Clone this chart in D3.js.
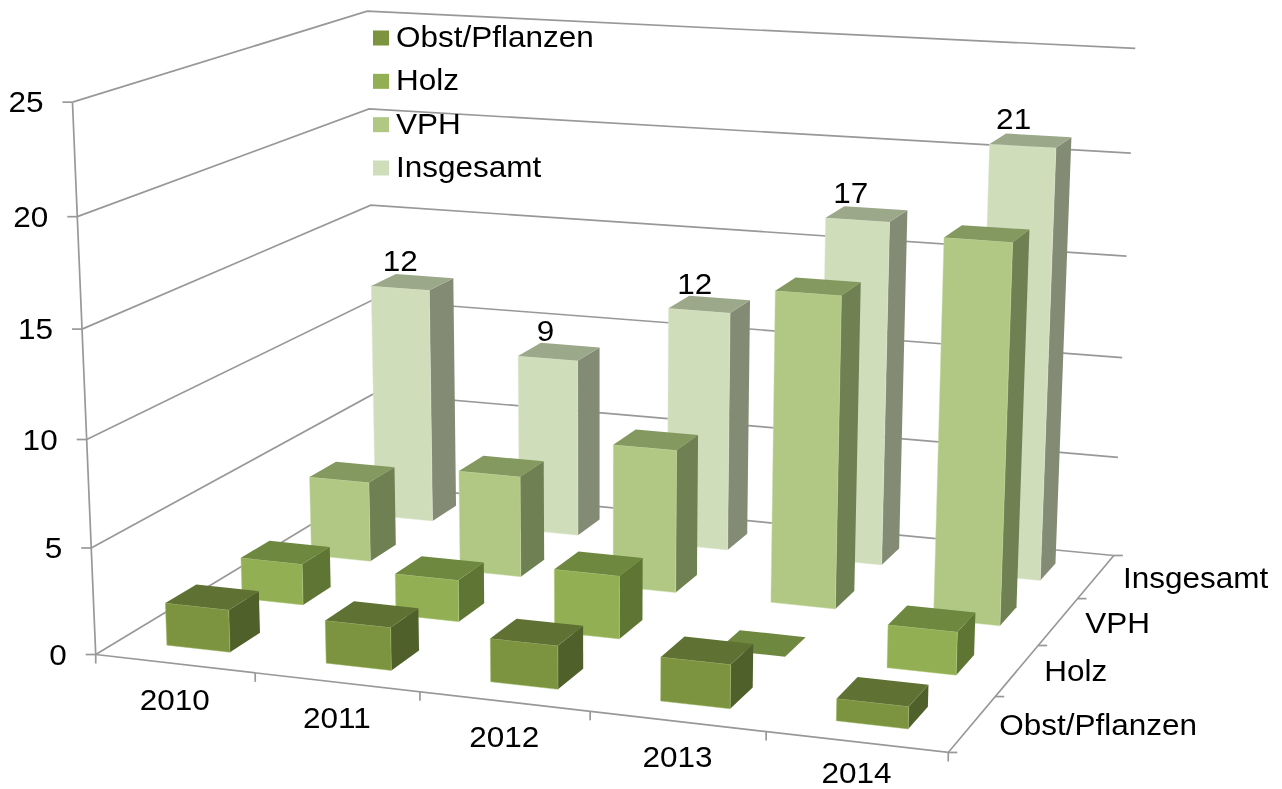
<!DOCTYPE html>
<html lang="de">
<head>
<meta charset="utf-8">
<title>3D-Säulendiagramm</title>
<script src="https://cdn.jsdelivr.net/npm/d3@7/dist/d3.min.js"></script>
<style>
html,body{margin:0;padding:0;background:#fff;overflow:hidden}
svg{display:block;filter:blur(0.55px)}
text{font-family:"Liberation Sans",Arial,sans-serif;fill:#000}
</style>
</head>
<body>
<svg id="chart" width="1282" height="789"></svg>
<script>
// ---- data ----
const years = ["2010","2011","2012","2013","2014"];
const seriesNames = ["Obst/Pflanzen","Holz","VPH","Insgesamt"];
const obst = [2,2,2,2,1];
const holz = [2,2,3,0,2];
const vph = [4,5,7,15,18];
const insgesamt = [12,9,12,17,21];
const valueTicks = [0,5,10,15,20,25];
const seriesValues = [obst,holz,vph,insgesamt];

// ---- styles ----
const frontColors = ["#7C9440","#92AF54","#B0C884","#CFDDBB"];
const topColors = ["#5F7233","#6E883F","#84995F","#9BA88A"];
const sideColors = ["#4F602B","#5F7534","#6F8052","#838B74"];
const edgeColors = ["#A5BB6C","#B5CE80","#C9DDA4","#E2ECD4"];
const gridColor = "#989898";
const FONT = 30, SX = 1.05;

// ---- scales: data -> unit cube ----
const xBand = d3.scaleBand().domain(years).range([0,1]).paddingInner(0.6).paddingOuter(0.3);
const xStep = d3.scaleBand().domain(years).range([0,1]);
const yBand = d3.scaleBand().domain(seriesNames).range([0,1]).paddingInner(0.6).paddingOuter(0.3);
const yStep = d3.scaleBand().domain(seriesNames).range([0,1]);
const zScale = d3.scaleLinear().domain([0,25]).range([0,1]);

// ---- camera: projective matrix fitted to the plot box ----
const calib = [
 [0,0,0,96,655],[0,0,.2,91.8,547],[0,0,.4,86.5,440],[0,0,.6,82.4,329],[0,0,.8,77.5,216.7],[0,0,1,72.6,101.7],
 [1,1,0,1113.5,555],[1,1,.2,1117.6,458],[1,1,.4,1121.6,358],[1,1,.6,1126,257],[1,1,.8,1130.6,153.7],[1,1,1,1136,48],
 [0,1,1,367,11],[0,1,.8,369,108.7],[0,1,.6,370.6,205.3],
 [1,0,0,946,751.7],[.2,0,0,255,673],[.4,0,0,420,692],[.6,0,0,589,713],[.8,0,0,765,732],
 [1,.25,0,999,695.7],[1,.5,0,1038,645],[1,.75,0,1079,597.7]
];
function solve(A,b){
  const n=b.length, M=A.map((r,i)=>[...r,b[i]]);
  for(let c=0;c<n;c++){
    let p=c; for(let r=c+1;r<n;r++) if(Math.abs(M[r][c])>Math.abs(M[p][c])) p=r;
    [M[c],M[p]]=[M[p],M[c]];
    for(let r=0;r<n;r++){ if(r===c) continue; const f=M[r][c]/M[c][c]; for(let k=c;k<=n;k++) M[r][k]-=f*M[c][k]; }
  }
  return M.map((r,i)=>r[n]/r[i]);
}
const rows=[], rhs=[];
calib.forEach(([u,v,w,x,y])=>{
  rows.push([u,v,w,1,0,0,0,0,-x*u,-x*v,-x*w]); rhs.push(x);
  rows.push([0,0,0,0,u,v,w,1,-y*u,-y*v,-y*w]); rhs.push(y);
});
const ATA=d3.range(11).map(i=>d3.range(11).map(j=>d3.sum(rows,r=>r[i]*r[j])));
const ATb=d3.range(11).map(i=>d3.sum(rows,(r,k)=>r[i]*rhs[k]));
const C=solve(ATA,ATb);
function project(u,v,w){
  const d=C[8]*u+C[9]*v+C[10]*w+1;
  return [(C[0]*u+C[1]*v+C[2]*w+C[3])/d,(C[4]*u+C[5]*v+C[6]*w+C[7])/d];
}

const svg=d3.select("#chart");
const line=d3.line();
const closed=pts=>line(pts)+"Z";
function stroke(sel){return sel.attr("fill","none").attr("stroke",gridColor).attr("stroke-width",1.7);}
function label(g,x,y,txt,anchor){
  return g.append("text").attr("transform",`translate(${x},${y}) scale(${SX},1)`)
    .attr("font-size",FONT).attr("text-anchor",anchor).attr("dominant-baseline","alphabetic").text(txt);
}

// ---- walls ----
const grid=svg.append("g");
valueTicks.forEach(t=>{
  const w=zScale(t);
  stroke(grid.append("path")).attr("d",line([project(0,0,w),project(0,1,w),project(1,1,w)]));
  const p=project(0,0,w);
  stroke(grid.append("path")).attr("d",line([[p[0]-10,p[1]],p]));
});
stroke(grid.append("path")).attr("d",line([project(0,0,1),project(0,0,0)]));
// ---- floor edges and ticks ----
stroke(grid.append("path")).attr("d",line([project(0,0,0),project(1,0,0),project(1,1,0)]));
[...years.map(y=>xStep(y)),1].forEach(u=>{
  const p=project(u,0,0);
  stroke(grid.append("path")).attr("d",line([p,[p[0],p[1]+9]]));
});
[...seriesNames.map(s=>yStep(s)),1].forEach(v=>{
  const p=project(1,v,0);
  stroke(grid.append("path")).attr("d",line([p,[p[0]+9,p[1]]]));
});

// ---- bars, back row first, left to right ----
const bars=svg.append("g");
d3.range(seriesNames.length-1,-1,-1).forEach(si=>{
  const y0=yBand(seriesNames[si]), y1=y0+yBand.bandwidth();
  years.forEach((yr,i)=>{
    const val=seriesValues[si][i];
    const x0=xBand(yr), x1=x0+xBand.bandwidth(), w=zScale(val);
    if(val>0){
      bars.append("path").attr("d",closed([project(x1,y0,0),project(x1,y1,0),project(x1,y1,w),project(x1,y0,w)])).attr("fill",sideColors[si]);
      bars.append("path").attr("d",closed([project(x0,y0,0),project(x1,y0,0),project(x1,y0,w),project(x0,y0,w)]))
        .attr("fill",frontColors[si]).attr("stroke",edgeColors[si]).attr("stroke-width",0.8).attr("stroke-opacity",0.6);
    }
    bars.append("path").attr("d",closed([project(x0,y0,w),project(x1,y0,w),project(x1,y1,w),project(x0,y1,w)])).attr("fill",topColors[si]);
  });
});

// ---- texts ----
const texts=svg.append("g");
valueTicks.forEach(t=>{
  const p=project(0,0,zScale(t));
  label(texts,p[0]-29,p[1]+10,String(t),"end");
});
years.forEach(y=>{
  const p=project(xStep(y)+xStep.bandwidth()/2,0,0);
  label(texts,p[0],Math.min(p[1]+46,782.5),y,"middle");
});
seriesNames.forEach(s=>{
  const p=project(1,yStep(s)+yStep.bandwidth()/2,0);
  label(texts,p[0]+27,p[1]+11,s,"start");
});
// data labels on the rear row
const labelShift=d3.scaleLinear().domain([0,4]).range([0,-9]);
insgesamt.forEach((v,i)=>{
  const yr=years[i], s=seriesNames[3];
  const p=project(xBand(yr)+xBand.bandwidth()/2,yBand(s),zScale(v));
  label(texts,p[0]+labelShift(i),p[1]-17,String(v),"middle");
});

// ---- legend ----
const legendY=d3.scalePoint().domain(seriesNames).range([38,168]);
const legend=svg.append("g");
seriesNames.forEach((s,i)=>{
  legend.append("rect").attr("x",373).attr("y",legendY(s)-7.5).attr("width",16).attr("height",15).attr("fill",frontColors[i]);
  label(legend,396,legendY(s)+9,s,"start");
});
</script>
</body>
</html>
